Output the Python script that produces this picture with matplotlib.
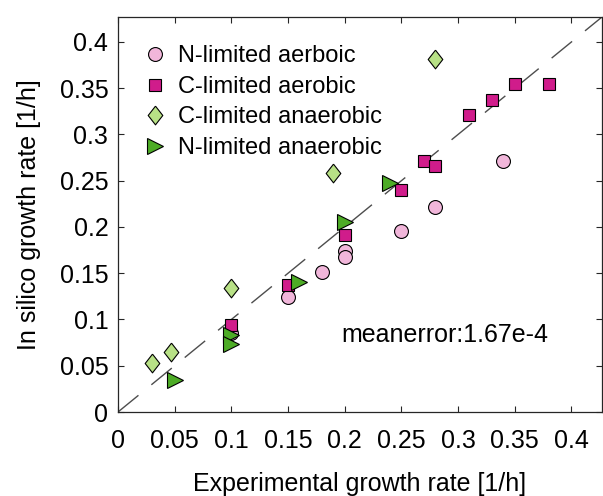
import matplotlib
matplotlib.use("Agg")
import matplotlib.pyplot as plt
import numpy as np

plt.rcParams['font.family'] = ['Liberation Sans', 'DejaVu Sans']

# Data
n_aer_x = [0.10, 0.15, 0.18, 0.20, 0.20, 0.25, 0.28, 0.34]
n_aer_y = [0.085, 0.124, 0.151, 0.174, 0.168, 0.196, 0.222, 0.271]

c_aer_x = [0.10, 0.15, 0.20, 0.25, 0.27, 0.28, 0.31, 0.33, 0.35, 0.38]
c_aer_y = [0.094, 0.137, 0.191, 0.240, 0.271, 0.266, 0.321, 0.337, 0.355, 0.355]

c_ana_x = [0.03, 0.047, 0.10, 0.19, 0.28]
c_ana_y = [0.053, 0.065, 0.134, 0.258, 0.382]

n_ana_x = [0.05, 0.10, 0.10, 0.16, 0.20, 0.24]
n_ana_y = [0.035, 0.083, 0.073, 0.141, 0.205, 0.248]

labels = ['N-limited aerboic', 'C-limited aerobic', 'C-limited anaerobic', 'N-limited anaerobic']
ticks = [0, 0.05, 0.1, 0.15, 0.2, 0.25, 0.3, 0.35, 0.4]
tick_labels = ['0', '0.05', '0.1', '0.15', '0.2', '0.25', '0.3', '0.35', '0.4']
annotation = 'meanerror:1.67e-4'
lim = 0.427

fig = plt.figure(figsize=(6.03, 4.96), dpi=100)
ax = fig.add_axes([118/603, 1 - 412/496, (602-118)/603, (412-17)/496])

# identity line
ax.plot([0, lim], [0, lim], color='#4d4d4d', lw=1.0, dashes=(19, 12), zorder=1)

diamond = [(0, 1), (0.78, 0), (0, -1), (-0.78, 0), (0, 1)]
ec = 'black'
mew = 0.8
ax.plot(n_aer_x, n_aer_y, ls='none', marker='o', ms=10, mfc='#f1b6da', mec=ec, mew=mew, label=labels[0], zorder=3)
ax.plot(c_aer_x, c_aer_y, ls='none', marker='s', ms=8.3, mfc='#d01c8b', mec=ec, mew=mew, label=labels[1], zorder=3)
ax.plot(c_ana_x, c_ana_y, ls='none', marker=diamond, ms=13.5, mfc='#b8e186', mec=ec, mew=mew, label=labels[2], zorder=3)
ax.plot(n_ana_x, n_ana_y, ls='none', marker='>', ms=11.5, mfc='#4dac26', mec=ec, mew=mew, label=labels[3], zorder=3)

ax.set_xlim(0, lim)
ax.set_ylim(0, lim)
ax.set_xticks(ticks)
ax.set_xticklabels(tick_labels)
ax.set_yticks(ticks)
ax.set_yticklabels(tick_labels)
ax.tick_params(direction='in', length=4, width=0.8, top=True, right=True,
               labelsize=18, color='#262626')
ax.tick_params(axis='x', pad=12)
ax.tick_params(axis='y', pad=7)
for s in ax.spines.values():
    s.set_linewidth(0.9)
    s.set_color('#262626')

ax.set_xlabel('Experimental growth rate [1/h]', fontsize=18, labelpad=14)
ax.set_ylabel('In silico growth rate [1/h]', fontsize=18, labelpad=13)

ax.text(0.288, 0.083, annotation, fontsize=18, ha='center', va='center')

ax.legend(loc='upper left', bbox_to_anchor=(0.052, 0.928), frameon=False,
          fontsize=17, handlelength=1.0, handletextpad=0.47, labelspacing=0.36,
          borderpad=0, borderaxespad=0, numpoints=1)

fig.savefig('out.png', dpi=100)
